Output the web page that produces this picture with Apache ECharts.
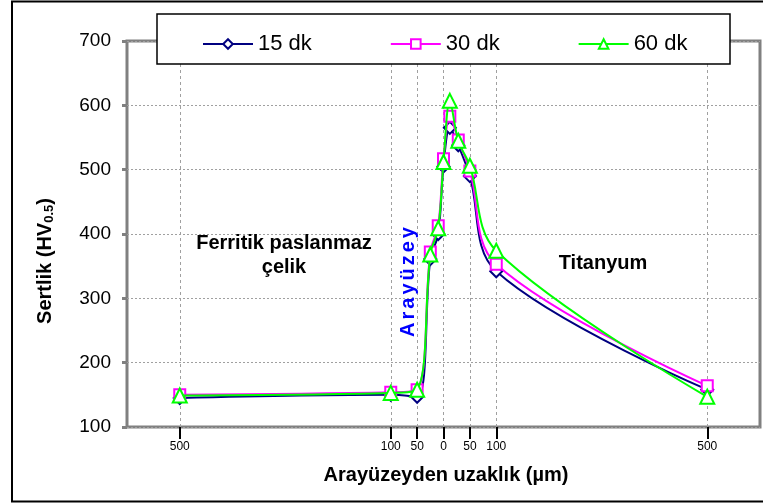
<!DOCTYPE html>
<html>
<head>
<meta charset="utf-8">
<script src="https://cdn.jsdelivr.net/npm/echarts@6/dist/echarts.min.js"></script>
<style>html,body{margin:0;padding:0;background:#fff}#c{width:763px;height:504px}</style>
</head>
<body>
<div id="c"></div>
<script>
// Distance from interface (µm); negative = ferritic stainless steel side
const xPositions = [-500, -100, -50, -25, -10, 0, 12, 28, 50, 100, 500];
const hv15 = [145, 150, 147, 361, 400, 505, 565, 538, 490, 342, 158];
const hv30 = [150, 154, 158, 372, 413, 517, 583, 546, 498, 353, 164];
const hv60 = [149, 153, 158, 368, 409, 512, 607, 545, 506, 374, 147];
const seriesNames = ['15 dk', '30 dk', '60 dk'];
const xTickValues = [-500, -100, -50, 0, 50, 100, 500];
const yTickValues = [100, 200, 300, 400, 500, 600, 700];

const FONT = '"Liberation Sans", Arial, sans-serif';
const chart = echarts.init(document.getElementById('c'));

function pairs(ys) { return xPositions.map((x, i) => [x, ys[i]]); }

const colors = ['#000080', '#FF00FF', '#00FF00'];
const symbols = ['diamond', 'rect', 'triangle'];
const sizes = [12, 11, 14];
const dataSets = [hv15, hv30, hv60];

const series = dataSets.map((d, i) => ({
  name: seriesNames[i],
  type: 'line',
  data: pairs(d),
  smooth: 0.35,
  symbol: symbols[i],
  symbolSize: sizes[i],
  showAllSymbol: true,
  lineStyle: { color: colors[i], width: 2 },
  itemStyle: { color: '#fff', borderColor: colors[i], borderWidth: 2 },
  z: 3 + i
}));
series[0].markLine = {
  silent: true,
  symbol: 'none',
  label: { show: false },
  lineStyle: { type: [3, 3], color: '#a0a0a0', width: 1 },
  data: xTickValues.map(v => ({ xAxis: v })),
  z: 1
};

const letters = 'Arayüzey'.split('');
const arText = letters.map(ch => '{a|' + ch + '}').join('');

chart.setOption({
  animation: false,
  textStyle: { fontFamily: FONT },
  grid: {
    left: 127, top: 41, right: 3, bottom: 77,
    show: true, borderColor: '#808080', borderWidth: 3, backgroundColor: 'transparent'
  },
  legend: {
    data: seriesNames,
    left: 197, top: 28,
    itemWidth: 50, itemHeight: 12, itemGap: 78,
    textStyle: { fontSize: 22, color: '#000', fontFamily: FONT },
    z: 101
  },
  xAxis: {
    type: 'value', min: -600, max: 600,
    axisLine: { show: false, onZero: false },
    splitLine: { show: false },
    axisTick: { show: true, customValues: xTickValues, length: 12, lineStyle: { color: '#000', width: 2 } },
    axisLabel: { customValues: xTickValues, formatter: v => String(Math.abs(v)), fontSize: 12, color: '#000', margin: 14, fontFamily: FONT }
  },
  yAxis: {
    type: 'value', min: 100, max: 700, interval: 100,
    axisLine: { show: false, onZero: false },
    axisTick: { show: true, length: 5, lineStyle: { color: '#808080', width: 3 } },
    axisLabel: { fontSize: 19, color: '#000', margin: 16, fontFamily: FONT },
    splitLine: { show: true, lineStyle: { type: [2, 2], color: '#a0a0a0', width: 1 } }
  },
  graphic: [
    { type: 'rect', shape: { x: 12, y: 1.5, width: 800, height: 500 }, style: { fill: 'none', stroke: '#000', lineWidth: 2 }, z: 0, silent: true },
    { type: 'rect', shape: { x: 157, y: 14, width: 573, height: 50 }, style: { fill: '#fff', stroke: '#000', lineWidth: 1.5 }, z: 100, silent: true },
    { type: 'text', x: 284, y: 255, style: { text: 'Ferritik paslanmaz\nçelik', font: 'bold 20px ' + FONT, fill: '#000', align: 'center', verticalAlign: 'middle', lineHeight: 24 }, z: 50 },
    { type: 'text', x: 603, y: 263, style: { text: 'Titanyum', font: 'bold 20px ' + FONT, fill: '#000', align: 'center', verticalAlign: 'middle' }, z: 50 },
    { type: 'text', x: 408, y: 282, rotation: Math.PI / 2, style: { text: arText, align: 'center', verticalAlign: 'middle', rich: { a: { fontSize: 20, fontWeight: 'bold', fontFamily: FONT, fill: '#0000FF', padding: [0, 1.5, 0, 1.5] } } }, z: 50 },
    { type: 'text', x: 45, y: 261, rotation: Math.PI / 2, style: { text: '{a|Sertlik (HV}{b|0.5}{a|)}', align: 'center', verticalAlign: 'middle', rich: { a: { fontSize: 20, fontWeight: 'bold', fontFamily: FONT, fill: '#000' }, b: { fontSize: 13, fontWeight: 'bold', fontFamily: FONT, fill: '#000', padding: [8, 0, 0, 0] } } }, z: 50 },
    { type: 'text', x: 446, y: 475, style: { text: 'Arayüzeyden uzaklık (µm)', font: 'bold 20px ' + FONT, fill: '#000', align: 'center', verticalAlign: 'middle' }, z: 50 }
  ],
  series: series
});
</script>
</body>
</html>
